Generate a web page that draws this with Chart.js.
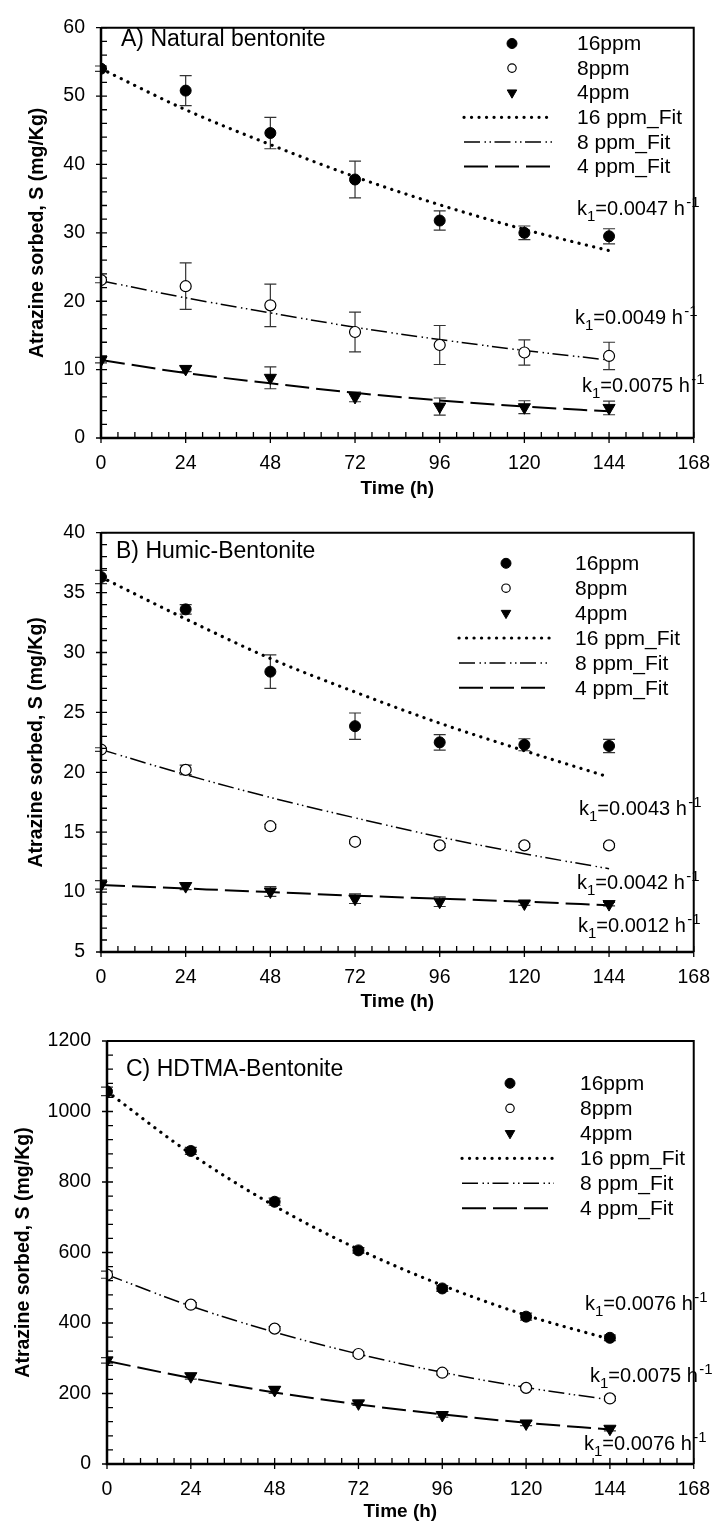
<!DOCTYPE html>
<html>
<head>
<meta charset="utf-8">
<script src="https://cdn.jsdelivr.net/npm/chart.js@4.4.1/dist/chart.umd.min.js"></script>
<style>
  body { margin: 0; background: #fff; width: 724px; height: 1526px; position: relative; overflow: hidden; }
  canvas { position: absolute; left: 0; }
</style>
</head>
<body>
<canvas id="chartA" width="724" height="505" style="top:0px"></canvas>
<canvas id="chartB" width="724" height="508" style="top:505px"></canvas>
<canvas id="chartC" width="724" height="513" style="top:1013px"></canvas>
<script>
// sampling times (h)
const timeH = [0, 24, 48, 72, 96, 120, 144];
const legendLabels = ['16ppm', '8ppm', '4ppm', '16 ppm_Fit', '8 ppm_Fit', '4 ppm_Fit'];

// A) Natural bentonite
const natObs16 = [54.0, 50.8, 44.6, 37.8, 31.8, 30.0, 29.5];
const natErr16 = [0.4, 2.2, 2.3, 2.7, 1.4, 1.0, 1.1];
const natObs8 = [23.1, 22.2, 19.4, 15.5, 13.6, 12.5, 12.0];
const natErr8 = [0.4, 3.4, 3.1, 2.9, 2.85, 1.85, 2.0];
const natObs4 = [11.4, 10.1, 8.8, 6.0, 4.6, 4.5, 4.4];
const natErr4 = [0.4, 0.4, 1.6, 0.7, 1.25, 0.95, 1.0];
const natFit16 = [54.0, 48.0, 42.9, 38.2, 34.1, 30.5, 27.4];
const natFit8 = [23.0, 20.5, 18.3, 16.2, 14.4, 12.8, 11.4];
const natFit4 = [11.4, 9.5, 8.0, 6.6, 5.5, 4.6, 3.9];
const natK = ['0.0047', '0.0049', '0.0075'];

// B) Humic-Bentonite
const humObs16 = [36.3, 33.6, 28.4, 23.85, 22.5, 22.3, 22.2];
const humErr16 = [0.55, 0.4, 1.4, 1.1, 0.65, 0.5, 0.55];
const humObs8 = [21.9, 20.2, 15.5, 14.2, 13.9, 13.9, 13.9];
const humErr8 = [0.15, 0.4, 0.15, 0.15, 0.15, 0.15, 0.15];
const humObs4 = [10.6, 10.5, 10.05, 9.45, 9.2, 9.05, 9.0];
const humErr4 = [0.35, 0.3, 0.4, 0.4, 0.4, 0.15, 0.15];
const humFit16 = [36.3, 32.8, 29.5, 26.7, 24.1, 21.8, 19.6];
const humFit8 = [21.9, 19.8, 17.9, 16.2, 14.6, 13.2, 11.95];
const humFit4 = [10.6, 10.3, 10.0, 9.7, 9.45, 9.2, 8.9];
const humK = ['0.0043', '0.0042', '0.0012'];

// C) HDTMA-Bentonite
const hdtObs16 = [1057, 888, 744, 606, 498, 418, 358];
const hdtErr16 = [12, 10, 10, 8, 8, 10, 8];
const hdtObs8 = [537, 452, 384, 312, 259, 216, 186];
const hdtErr8 = [10, 6, 6, 6, 6, 6, 6];
const hdtObs4 = [294, 249, 210, 172, 139, 115, 100];
const hdtErr4 = [8, 8, 10, 6, 6, 6, 6];
const hdtFit16 = [1057, 880, 732, 609, 507, 422, 354];
const hdtFit8 = [537, 448, 374, 312, 260, 217, 182];
const hdtFit4 = [292, 244, 203, 169, 141, 117, 98];
const hdtK = ['0.0076', '0.0075', '0.0076'];

const FONT = '"Liberation Sans", Arial, sans-serif';
Chart.defaults.color = '#000';
Chart.defaults.font.family = FONT;

// marker / line styles, shared by plot and legend
const markerStyles = [
  { pointStyle: 'circle', radius: 5.5, rotation: 0, fill: '#000', borderWidth: 1, legendRadius: 5 },
  { pointStyle: 'circle', radius: 5.5, rotation: 0, fill: '#fff', borderWidth: 1.2, legendRadius: 4.2 },
  { pointStyle: 'triangle', radius: 7, rotation: 180, fill: '#000', borderWidth: 1, legendRadius: 5.5 }
];
const lineStyles = [
  { dash: [0.1, 7.4], width: 3.2, cap: 'round' },
  { dash: [16, 4.5, 1.5, 3.5, 1.5, 3.5], width: 1.5, cap: 'butt' },
  { dash: [24, 7], width: 2, cap: 'butt' }
];

const panels = [
  {
    id: 'chartA', title: 'A) Natural bentonite', titleX: 121, titleY: 45.5,
    yMin: 0, yMax: 60, yStep: 10, yWidth: 101, yTitlePad: 26,
    padTop: 16, padRight: 20, xHeight: 67, xTitlePad: 5,
    obs: [natObs16, natObs8, natObs4], err: [natErr16, natErr8, natErr4],
    fit: [natFit16, natFit8, natFit4], k: natK,
    kPos: [[577, 215], [575, 324], [582, 392]],
    leg: { sx: 512, lx1: 464, lx2: 554, tx: 577, y0: 43.5, dy: 24.6 }
  },
  {
    id: 'chartB', title: 'B) Humic-Bentonite', titleX: 116, titleY: 53.3,
    yMin: 5, yMax: 40, yStep: 5, yWidth: 101, yTitlePad: 25,
    padTop: 24, padRight: 20, xHeight: 61, xTitlePad: 0,
    obs: [humObs16, humObs8, humObs4], err: [humErr16, humErr8, humErr4],
    fit: [humFit16, humFit8, humFit4], k: humK,
    kPos: [[579, 310], [577, 384], [578, 427]],
    leg: { sx: 506, lx1: 459, lx2: 550, tx: 575, y0: 58.3, dy: 24.9 }
  },
  {
    id: 'chartC', title: 'C) HDTMA-Bentonite', titleX: 126, titleY: 63,
    yMin: 0, yMax: 1200, yStep: 200, yWidth: 107, yTitlePad: 12,
    padTop: 28, padRight: 15, xHeight: 62, xTitlePad: 3,
    obs: [hdtObs16, hdtObs8, hdtObs4], err: [hdtErr16, hdtErr8, hdtErr4],
    fit: [hdtFit16, hdtFit8, hdtFit4], k: hdtK,
    kPos: [[585, 297], [590, 369], [584, 437]],
    leg: { sx: 510, lx1: 462, lx2: 554, tx: 580, y0: 70.3, dy: 25 }
  }
];

function toPoints(values) {
  return timeH.map((t, i) => ({ x: t, y: values[i] }));
}

function drawMarker(ctx, m, r, x, y) {
  ctx.save();
  ctx.fillStyle = m.fill;
  ctx.strokeStyle = '#000';
  ctx.lineWidth = m.borderWidth;
  Chart.helpers.drawPoint(ctx, { pointStyle: m.pointStyle, radius: r, rotation: m.rotation, borderWidth: m.borderWidth }, x, y);
  ctx.restore();
}

function drawK(ctx, x, y, val) {
  ctx.save();
  ctx.fillStyle = '#000';
  ctx.textAlign = 'left';
  ctx.textBaseline = 'alphabetic';
  ctx.font = '20px ' + FONT;
  ctx.fillText('k', x, y);
  x += ctx.measureText('k').width;
  ctx.font = '15px ' + FONT;
  ctx.fillText('1', x, y + 5.5);
  x += ctx.measureText('1').width;
  ctx.font = '20px ' + FONT;
  const s = '=' + val + ' h';
  ctx.fillText(s, x, y);
  x += ctx.measureText(s).width + 1.5;
  ctx.font = '15px ' + FONT;
  ctx.fillText('-1', x, y - 8);
  ctx.restore();
}

function makeDecor(p) {
  return {
    id: 'decor',
    beforeDatasetsDraw(chart) {
      // error bars
      const ctx = chart.ctx, xs = chart.scales.x, ys = chart.scales.y;
      ctx.save();
      ctx.strokeStyle = '#333';
      ctx.lineWidth = 1.2;
      p.obs.forEach((vals, s) => {
        vals.forEach((v, i) => {
          const e = p.err[s][i];
          const x = xs.getPixelForValue(timeH[i]);
          const y1 = ys.getPixelForValue(v + e), y2 = ys.getPixelForValue(v - e);
          ctx.beginPath();
          ctx.moveTo(x, y1); ctx.lineTo(x, y2);
          ctx.moveTo(x - 6, y1); ctx.lineTo(x + 6, y1);
          ctx.moveTo(x - 6, y2); ctx.lineTo(x + 6, y2);
          ctx.stroke();
        });
      });
      ctx.restore();
    },
    afterDraw(chart) {
      const ctx = chart.ctx, a = chart.chartArea;
      const xs = chart.scales.x, ys = chart.scales.y;
      ctx.save();
      ctx.strokeStyle = '#000';
      // frame
      ctx.lineWidth = 2;
      ctx.beginPath();
      ctx.moveTo(a.left, a.top); ctx.lineTo(a.right, a.top); ctx.lineTo(a.right, a.bottom);
      ctx.stroke();
      ctx.lineWidth = 2.5;
      ctx.beginPath();
      ctx.moveTo(a.left, a.top); ctx.lineTo(a.left, a.bottom); ctx.lineTo(a.right, a.bottom);
      ctx.stroke();
      // ticks: majors cross the axis, minors inside
      ctx.lineWidth = 1.3;
      ctx.beginPath();
      const xStep = 24;
      for (let k = 0; k * xStep / 5 <= xs.max + 1e-9; k++) {
        const v = k * xStep / 5;
        const x = xs.getPixelForValue(v);
        const major = k % 5 === 0;
        ctx.moveTo(x, a.bottom + (major ? 5 : 0));
        ctx.lineTo(x, a.bottom - 6);
      }
      for (let k = 0; p.yMin + k * p.yStep / 5 <= p.yMax + 1e-9; k++) {
        const v = p.yMin + k * p.yStep / 5;
        const y = ys.getPixelForValue(v);
        const major = k % 5 === 0;
        ctx.moveTo(a.left - (major ? 5 : 0), y);
        ctx.lineTo(a.left + 6, y);
      }
      ctx.stroke();
      // panel title
      ctx.fillStyle = '#000';
      ctx.font = '23px ' + FONT;
      ctx.textAlign = 'left';
      ctx.textBaseline = 'alphabetic';
      ctx.fillText(p.title, p.titleX, p.titleY);
      // legend
      const L = p.leg;
      ctx.font = '21px ' + FONT;
      ctx.textBaseline = 'middle';
      legendLabels.forEach((lab, i) => {
        const y = L.y0 + i * L.dy;
        if (i < 3) {
          drawMarker(ctx, markerStyles[i], markerStyles[i].legendRadius, L.sx, y);
        } else {
          const ls = lineStyles[i - 3];
          ctx.save();
          ctx.setLineDash(ls.dash);
          ctx.lineWidth = ls.width;
          ctx.lineCap = ls.cap;
          ctx.beginPath();
          ctx.moveTo(L.lx1, y); ctx.lineTo(L.lx2, y);
          ctx.stroke();
          ctx.restore();
        }
        ctx.fillStyle = '#000';
        ctx.fillText(lab, L.tx, y + 1);
      });
      ctx.restore();
      // rate constants
      p.k.forEach((val, i) => drawK(ctx, p.kPos[i][0], p.kPos[i][1], val));
    }
  };
}

function makePanel(p) {
  const datasets = [];
  p.obs.forEach((vals, s) => {
    const m = markerStyles[s];
    datasets.push({
      label: legendLabels[s],
      data: toPoints(vals),
      showLine: false,
      pointStyle: m.pointStyle,
      pointRadius: m.radius,
      pointRotation: m.rotation,
      pointBackgroundColor: m.fill,
      pointBorderColor: '#000',
      pointBorderWidth: m.borderWidth
    });
  });
  p.fit.forEach((vals, s) => {
    const ls = lineStyles[s];
    datasets.push({
      label: legendLabels[s + 3],
      data: toPoints(vals),
      showLine: true,
      pointRadius: 0,
      borderColor: '#000',
      borderWidth: ls.width,
      borderDash: ls.dash,
      borderCapStyle: ls.cap,
      cubicInterpolationMode: 'monotone',
      fill: false
    });
  });

  new Chart(document.getElementById(p.id), {
    type: 'scatter',
    data: { datasets },
    options: {
      responsive: false,
      animation: false,
      devicePixelRatio: 1,
      events: [],
      layout: { padding: { top: p.padTop, right: p.padRight, left: 0, bottom: 0 } },
      plugins: { legend: { display: false }, tooltip: { enabled: false } },
      scales: {
        x: {
          type: 'linear', min: 0, max: 168,
          afterFit: (scale) => { scale.height = p.xHeight; },
          grid: { display: false, drawTicks: false },
          border: { display: false },
          ticks: { stepSize: 24, padding: 14, font: { size: 19.5 }, color: '#000', maxRotation: 0,
                   callback: (v) => String(v) },
          title: { display: true, text: 'Time (h)', font: { size: 19, weight: 'bold' }, color: '#000',
                   padding: { top: 0, bottom: p.xTitlePad } }
        },
        y: {
          type: 'linear', min: p.yMin, max: p.yMax,
          afterFit: (scale) => { scale.width = p.yWidth; },
          grid: { display: false, drawTicks: false },
          border: { display: false },
          ticks: { stepSize: p.yStep, padding: 16, font: { size: 19.5 }, color: '#000',
                   callback: (v) => String(v) },
          title: { display: true, text: 'Atrazine sorbed, S (mg/Kg)', font: { size: 19.5, weight: 'bold' }, color: '#000',
                   padding: { top: p.yTitlePad, bottom: 0 } }
        }
      }
    },
    plugins: [makeDecor(p)]
  });
}

panels.forEach(makePanel);
</script>
</body>
</html>
